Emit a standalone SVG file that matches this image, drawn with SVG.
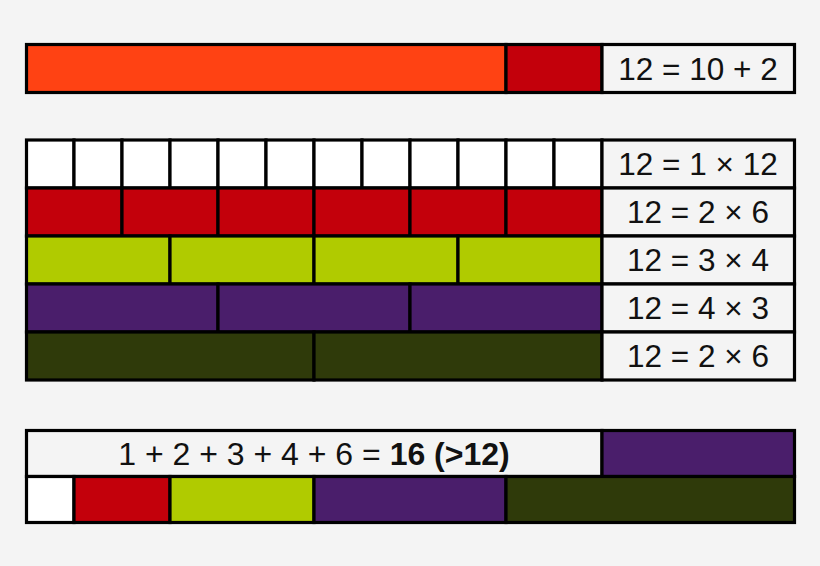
<svg xmlns="http://www.w3.org/2000/svg" width="820" height="566" viewBox="0 0 820 566">
<style>
.c{stroke:#000;stroke-width:3.2}
.o{fill:#ff4213}.r{fill:#c3000b}.g{fill:#b0cb00}.p{fill:#4a1e6b}.d{fill:#2f3a0a}.w{fill:#ffffff}.l{fill:#f4f4f4}
text{font-family:"Liberation Sans",Arial,sans-serif;font-size:31.5px;fill:#111;text-anchor:middle}
</style>
<rect width="820" height="566" fill="#f4f4f4"/>
<g id="sum">
<rect class="c o" x="26.5" y="44.5" width="479.5" height="48"/>
<rect class="c r" x="506" y="44.5" width="96" height="48"/>
<rect class="c l" x="602" y="44.5" width="192.5" height="48"/>
<text x="698" y="79.8">12 = 10 + 2</text>
</g>
<g id="row1">
<rect class="c w" x="26.5" y="140" width="47.5" height="48"/>
<rect class="c w" x="74" y="140" width="48" height="48"/>
<rect class="c w" x="122" y="140" width="48" height="48"/>
<rect class="c w" x="170" y="140" width="48" height="48"/>
<rect class="c w" x="218" y="140" width="48" height="48"/>
<rect class="c w" x="266" y="140" width="48" height="48"/>
<rect class="c w" x="314" y="140" width="48" height="48"/>
<rect class="c w" x="362" y="140" width="48" height="48"/>
<rect class="c w" x="410" y="140" width="48" height="48"/>
<rect class="c w" x="458" y="140" width="48" height="48"/>
<rect class="c w" x="506" y="140" width="48" height="48"/>
<rect class="c w" x="554" y="140" width="48" height="48"/>
<rect class="c l" x="602" y="140" width="192.5" height="48"/>
<text x="698" y="175.3">12 = 1 × 12</text>
</g>
<g id="row2">
<rect class="c r" x="26.5" y="188" width="95.5" height="48"/>
<rect class="c r" x="122" y="188" width="96" height="48"/>
<rect class="c r" x="218" y="188" width="96" height="48"/>
<rect class="c r" x="314" y="188" width="96" height="48"/>
<rect class="c r" x="410" y="188" width="96" height="48"/>
<rect class="c r" x="506" y="188" width="96" height="48"/>
<rect class="c l" x="602" y="188" width="192.5" height="48"/>
<text x="698" y="223.3">12 = 2 × 6</text>
</g>
<g id="row3">
<rect class="c g" x="26.5" y="236" width="143.5" height="48"/>
<rect class="c g" x="170" y="236" width="144" height="48"/>
<rect class="c g" x="314" y="236" width="144" height="48"/>
<rect class="c g" x="458" y="236" width="144" height="48"/>
<rect class="c l" x="602" y="236" width="192.5" height="48"/>
<text x="698" y="271.3">12 = 3 × 4</text>
</g>
<g id="row4">
<rect class="c p" x="26.5" y="284" width="191.5" height="48"/>
<rect class="c p" x="218" y="284" width="192" height="48"/>
<rect class="c p" x="410" y="284" width="192" height="48"/>
<rect class="c l" x="602" y="284" width="192.5" height="48"/>
<text x="698" y="319.3">12 = 4 × 3</text>
</g>
<g id="row5">
<rect class="c d" x="26.5" y="332" width="287.5" height="48"/>
<rect class="c d" x="314" y="332" width="288" height="48"/>
<rect class="c l" x="602" y="332" width="192.5" height="48"/>
<text x="698" y="367.3">12 = 2 × 6</text>
</g>
<g id="total">
<rect class="c l" x="26.5" y="430.5" width="575.5" height="46"/>
<rect class="c p" x="602" y="430.5" width="192.5" height="46"/>
<text x="314" y="464.7" style="font-size:32px">1 + 2 + 3 + 4 + 6 = <tspan font-weight="bold">16 (&gt;12)</tspan></text>
</g>
<g id="divisors">
<rect class="c w" x="26.5" y="476.5" width="47.5" height="46"/>
<rect class="c r" x="74" y="476.5" width="96" height="46"/>
<rect class="c g" x="170" y="476.5" width="144" height="46"/>
<rect class="c p" x="314" y="476.5" width="192" height="46"/>
<rect class="c d" x="506" y="476.5" width="288.5" height="46"/>
</g>
<g id="connectors"/>
</svg>
